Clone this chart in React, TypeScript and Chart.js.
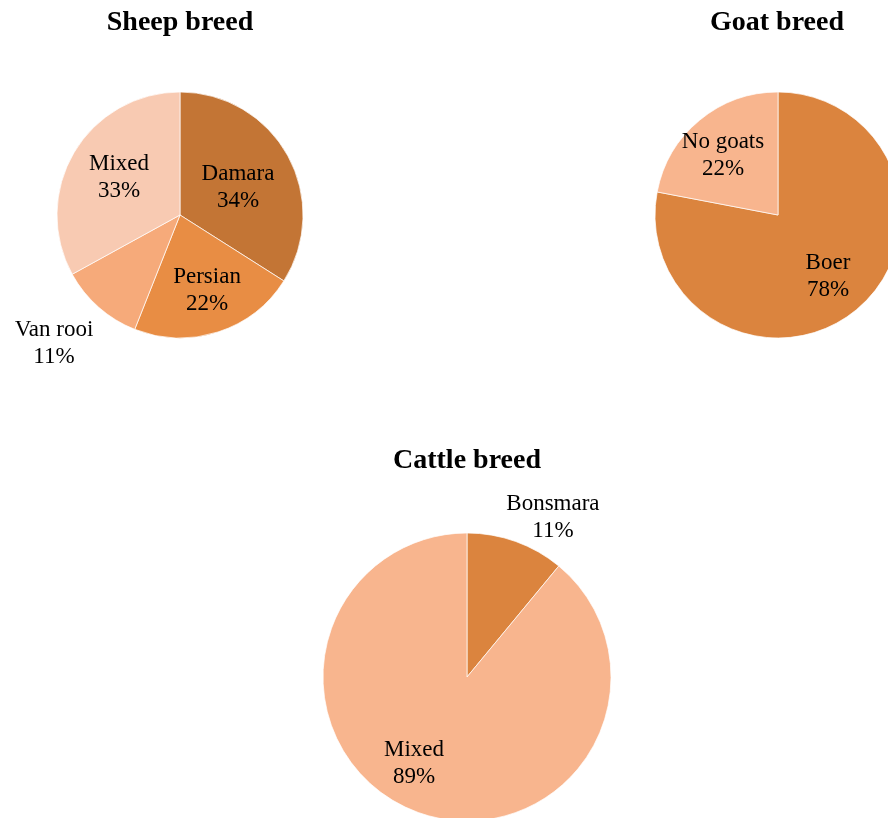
import React, { useEffect, useRef } from "react";
import { Chart, registerables } from "chart.js";

Chart.register(...registerables);

// ---- data ----
const sheepLabels = ["Damara", "Persian", "Van rooi", "Mixed"];
const sheepValues = [34, 22, 11, 33];

const goatLabels = ["Boer", "No goats"];
const goatValues = [78, 22];

const cattleLabels = ["Bonsmara", "Mixed"];
const cattleValues = [11, 89];

// ---- styles ----
const sheepColors = ["#C37535", "#E88D44", "#F6AA7A", "#F8CAB2"];
const goatColors = ["#DB843E", "#F8B58E"];
const cattleColors = ["#DB843E", "#F8B58E"];

// label placement: distance (in radii) and angular shift (deg) from slice mid-angle
const sheepLabelFactors = [0.529, 0.637, 1.451, 0.591];
const sheepLabelShift = [1.8, -2.2, 3.5, 2.3];
const goatLabelFactors = [0.632, 0.671];
const goatLabelShift = [-0.4, -2.2];
const cattleLabelFactors = [1.271, 0.693];
const cattleLabelShift = [8.2, 12.3];

const LABEL_FONT = '23px "Liberation Serif", serif';
const TITLE_FONT = 'bold 28px "Liberation Serif", serif';
const TEXT_BASELINE_ADJ = 2;

const sliceLabelPlugin = {
  id: "sliceLabels",
  afterDatasetsDraw(chart: any, _args: any, opts: any) {
    const ctx = chart.ctx;
    const meta = chart.getDatasetMeta(0);
    const ds = chart.data.datasets[0];
    const labels = chart.data.labels as string[];
    ctx.save();
    ctx.fillStyle = "#000";
    ctx.textAlign = "center";
    ctx.textBaseline = "middle";
    ctx.font = LABEL_FONT;
    const lh = 27;
    meta.data.forEach((arc: any, i: number) => {
      const p = arc.getProps(["x", "y", "startAngle", "endAngle", "outerRadius"], true);
      const mid = (p.startAngle + p.endAngle) / 2 + ((opts.shifts[i] || 0) * Math.PI) / 180;
      const d = p.outerRadius * opts.factors[i];
      const cx = p.x + Math.cos(mid) * d;
      const cy = p.y + Math.sin(mid) * d + TEXT_BASELINE_ADJ;
      ctx.fillText(labels[i], cx, cy - lh / 2);
      ctx.fillText(`${ds.data[i]}%`, cx, cy + lh / 2);
    });
    const area = chart.chartArea;
    ctx.font = TITLE_FONT;
    ctx.fillText(opts.title, (area.left + area.right) / 2 + (opts.titleDx || 0), opts.titleY);
    ctx.restore();
  },
};

type PieProps = {
  left: number;
  top: number;
  width: number;
  height: number;
  labels: string[];
  values: number[];
  colors: string[];
  radius: number;
  factors: number[];
  shifts: number[];
  title: string;
  titleY: number;
  titleDx?: number;
};

function PieBox(props: PieProps) {
  const ref = useRef<HTMLCanvasElement | null>(null);
  useEffect(() => {
    if (!ref.current) return;
    const chart = new Chart(ref.current, {
      type: "pie",
      data: {
        labels: props.labels,
        datasets: [
          {
            data: props.values,
            backgroundColor: props.colors,
            borderColor: "rgba(255,255,255,0.7)",
            borderWidth: 1,
            radius: props.radius,
          } as any,
        ],
      },
      options: {
        animation: false,
        responsive: false,
        maintainAspectRatio: false,
        layout: { padding: 0 },
        plugins: {
          legend: { display: false },
          tooltip: { enabled: false },
          title: { display: false },
          sliceLabels: {
            factors: props.factors,
            shifts: props.shifts,
            title: props.title,
            titleY: props.titleY,
            titleDx: props.titleDx || 0,
          },
        } as any,
      },
      plugins: [sliceLabelPlugin as any],
    });
    return () => chart.destroy();
  }, []);
  return (
    <canvas
      ref={ref}
      width={props.width}
      height={props.height}
      style={{
        position: "absolute",
        left: props.left,
        top: props.top,
        width: props.width,
        height: props.height,
      }}
    />
  );
}

export default function App() {
  return (
    <div
      style={{
        position: "absolute",
        left: 0,
        top: 0,
        width: 888,
        height: 818,
        overflow: "hidden",
        background: "#fff",
      }}
    >
      <PieBox
        left={0}
        top={0}
        width={360}
        height={430}
        labels={sheepLabels}
        values={sheepValues}
        colors={sheepColors}
        radius={123}
        factors={sheepLabelFactors}
        shifts={sheepLabelShift}
        title="Sheep breed"
        titleY={23}
      />
      <PieBox
        left={418}
        top={0}
        width={720}
        height={430}
        labels={goatLabels}
        values={goatValues}
        colors={goatColors}
        radius={123}
        factors={goatLabelFactors}
        shifts={goatLabelShift}
        title="Goat breed"
        titleY={23}
        titleDx={-1}
      />
      <PieBox
        left={167}
        top={430}
        width={600}
        height={494}
        labels={cattleLabels}
        values={cattleValues}
        colors={cattleColors}
        radius={144}
        factors={cattleLabelFactors}
        shifts={cattleLabelShift}
        title="Cattle breed"
        titleY={31}
      />
    </div>
  );
}
